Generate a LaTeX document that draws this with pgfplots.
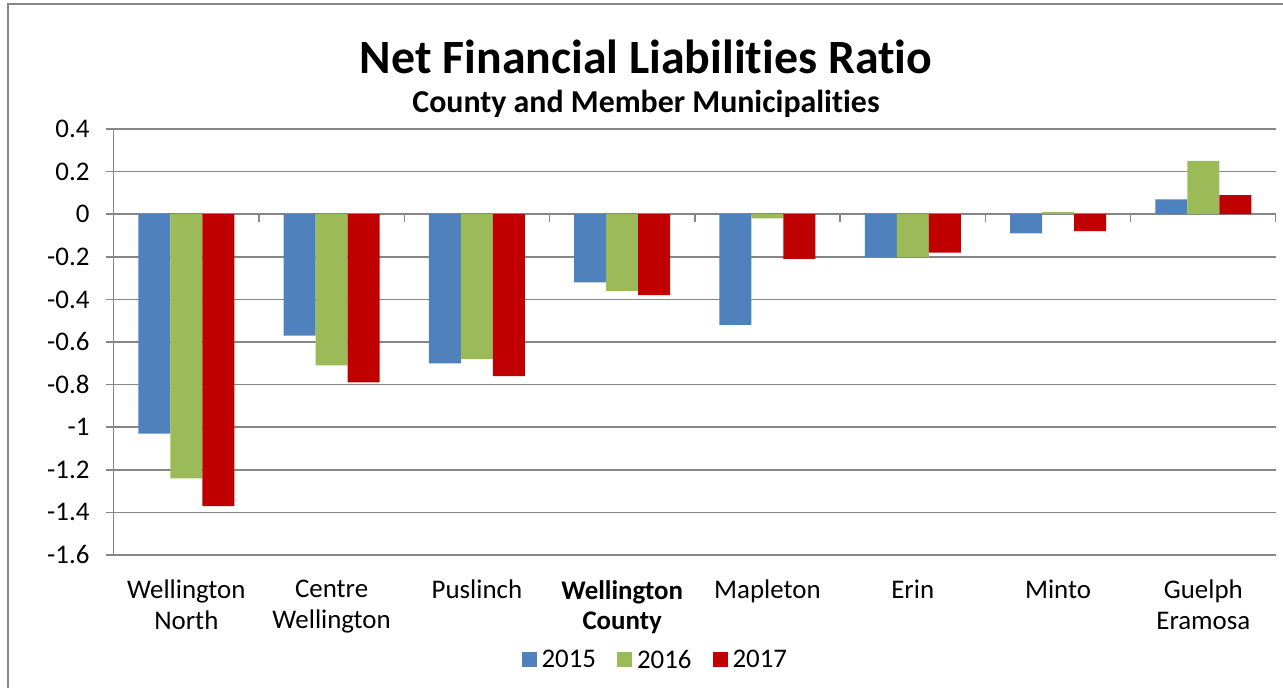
\documentclass[border=0pt]{standalone}
\usepackage{pgfplots}
\pgfplotsset{compat=1.18}
\usepackage{fontspec}
\setmainfont{Carlito}[Ligatures=NoCommon]
\definecolor{c15}{RGB}{79,129,189}
\definecolor{c16}{RGB}{155,187,89}
\definecolor{c17}{RGB}{192,0,0}
\definecolor{gridc}{RGB}{134,134,134}
\begin{document}
\begin{tikzpicture}[x=1bp,y=1bp]
\useasboundingbox (0,0) rectangle (1283,688);
\draw[gridc, line width=1.5bp] (8,-5) -- (8,684) -- (1290,684);
\node[font=\fontsize{48}{56}\selectfont\bfseries] at (646,631) {Net Financial Liabilities Ratio};
\node[font=\fontsize{32}{37}\selectfont\bfseries] at (646,584) {County and Member Municipalities};
\begin{axis}[
  at={(113.7bp,133bp)}, anchor=south west,
  width=1162.3bp, height=426bp, scale only axis,
  xmin=-0.5, xmax=7.5, ymin=-1.6, ymax=0.4,
  axis y line*=left, axis x line*=bottom,
  x axis line style={draw=none},
  y axis line style={gridc, line width=1.5bp, -},
  xtick={0,...,7},
  xticklabels={{Wellington\\North},{Centre\\Wellington},{Puslinch},{\textbf{Wellington}\\\textbf{County}},{Mapleton},{Erin},{Minto},{Guelph\\Eramosa}},
  x tick style={draw=none},
  xticklabel style={align=center, font=\fontsize{27}{31}\selectfont, inner sep=0pt, yshift=-17bp},
  ytick={-1.6,-1.4,...,0.4},
  yticklabels={-1.6,-1.4,-1.2,-1,-0.8,-0.6,-0.4,-0.2,0,0.2,0.4},
  yticklabel style={font=\fontsize{27}{31}\selectfont, inner sep=0pt, xshift=-16bp},
  tick align=outside, major tick length=8bp,
  y tick style={gridc, line width=1.5bp},
  ymajorgrids, grid style={gridc, line width=1.5bp},
  ybar=0bp, bar width=32bp,
  legend columns=3,
  legend style={at={(0.466,0)}, anchor=center, yshift=-105bp, draw=none, fill=none,
    font=\fontsize{27}{31}\selectfont, inner sep=0pt,
    /tikz/every even column/.append style={column sep=19bp}},
  legend image code/.code={\fill[#1] (0bp,-7bp) rectangle (15bp,8bp); \path (18bp,0bp);},
]
\addplot[fill=c15, draw=none] coordinates {(0,-1.03) (1,-0.57) (2,-0.70) (3,-0.32) (4,-0.52) (5,-0.20) (6,-0.09) (7,0.07)};
\addplot[fill=c16, draw=none] coordinates {(0,-1.24) (1,-0.71) (2,-0.68) (3,-0.36) (4,-0.02) (5,-0.20) (6,0.01) (7,0.25)};
\addplot[fill=c17, draw=none] coordinates {(0,-1.37) (1,-0.79) (2,-0.76) (3,-0.38) (4,-0.21) (5,-0.18) (6,-0.08) (7,0.09)};
\legend{2015,2016,2017}
\pgfplotsinvokeforeach{-0.5,0.5,1.5,2.5,3.5,4.5,5.5,6.5,7.5}{
  \draw[gridc, line width=1.5bp] (axis cs:#1,0) -- ([yshift=-8bp]axis cs:#1,0);
}
\end{axis}
\end{tikzpicture}
\end{document}
